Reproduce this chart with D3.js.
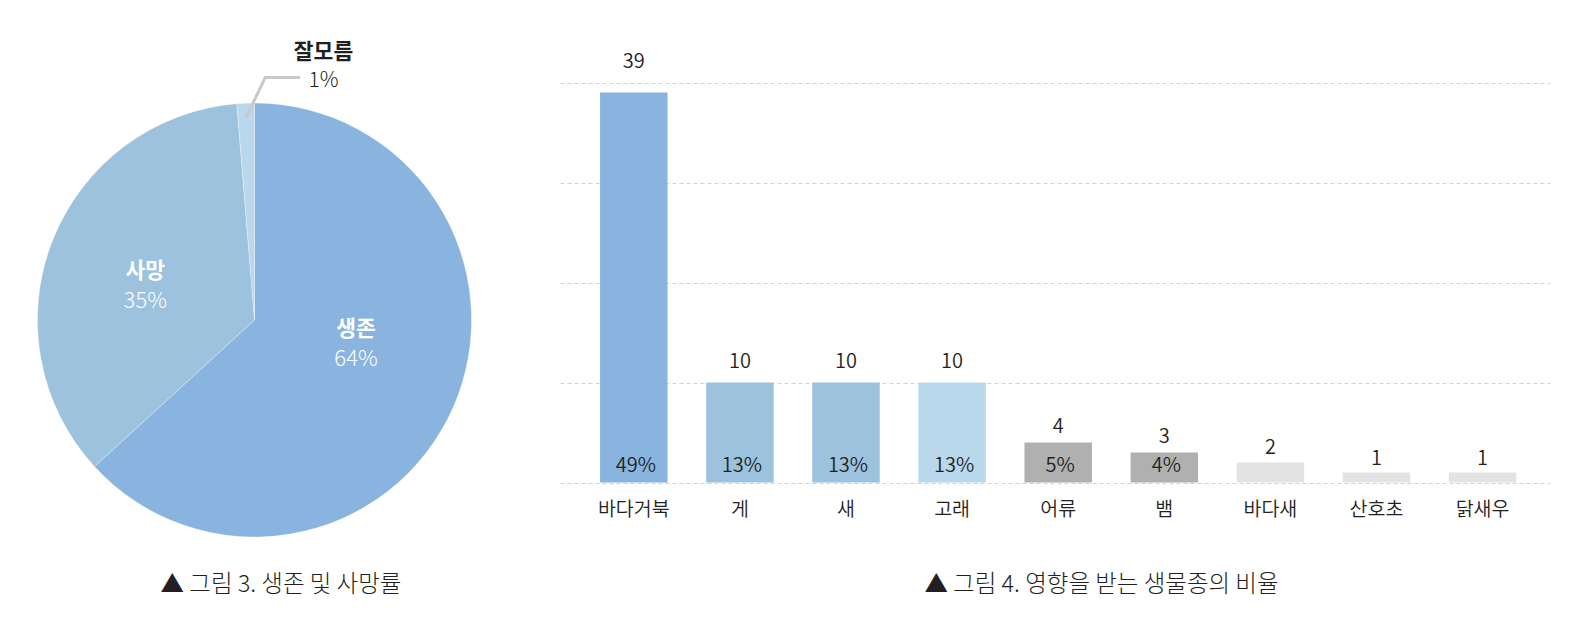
<!DOCTYPE html>
<html><head><meta charset="utf-8">
<script src="https://cdn.jsdelivr.net/npm/d3@7"></script>
<style>
html,body{margin:0;padding:0;background:#fff;}
svg{display:block;font-family:"Noto Sans CJK KR","Noto Sans",sans-serif;}
</style></head>
<body>
<svg id="c" width="1584" height="631"></svg>
<script>
// ---- Pie data (그림 3) ----
const pieNames = ["생존", "사망", "잘모름"];
const pieValues = [63.2, 35.5, 1.3];
const pieLabels = ["64%", "35%", "1%"];
const pieColors = ["#8ab4e0", "#9cc2dd", "#b9d8ec"];

// ---- Bar data (그림 4) ----
const barCategories = ["바다거북", "게", "새", "고래", "어류", "뱀", "바다새", "산호초", "닭새우"];
const barValues = [39, 10, 10, 10, 4, 3, 2, 1, 1];
const barPercents = ["49%", "13%", "13%", "13%", "5%", "4%", "", "", ""];
const barColors = ["#8ab4e0", "#9cc2dd", "#9cc2dd", "#b9d8ec", "#b0b0b0", "#b0b0b0", "#e3e3e3", "#e3e3e3", "#e3e3e3"];
const yTicks = [0, 10, 20, 30, 40];

const captions = ["▲ 그림 3. 생존 및 사망률", "▲ 그림 4. 영향을 받는 생물종의 비율"];

const svg = d3.select("#c");
const textColor = "#231f20";

// ================= PIE =================
const cx = 254.5, cy = 320, R = 217;
const pie = d3.pie().sort(null).value(d => d)(pieValues);
const arc = d3.arc().innerRadius(0).outerRadius(R);
const gPie = svg.append("g").attr("transform", `translate(${cx},${cy})`);
gPie.selectAll("path").data(pie).join("path")
  .attr("d", arc)
  .attr("fill", (d, i) => pieColors[i])
  .attr("stroke", "#ffffff").attr("stroke-opacity", 0.35).attr("stroke-width", 0.8);

function twoLine(g, x, y, name, pct, color, s1, s2, gap) {
  g.append("text").attr("text-anchor", "middle").attr("fill", color)
    .attr("x", x).attr("y", y - gap / 2).attr("dy", "0.36em")
    .attr("font-size", s1).attr("font-weight", 700).text(name);
  g.append("text").attr("text-anchor", "middle").attr("fill", color)
    .attr("x", x).attr("y", y + gap / 2).attr("dy", "0.36em")
    .attr("font-size", s2).attr("font-weight", 300).text(pct);
}

const labelArc = d3.arc().innerRadius(112).outerRadius(112);
const nudges = [[-1, -22], [-5, 6]];
[0, 1].forEach(i => {
  const c = labelArc.centroid(pie[i]);
  twoLine(gPie, c[0] + nudges[i][0], c[1] + nudges[i][1], pieNames[i], pieLabels[i], "#fff", 21.5, 22, 29);
});

// leader for small slice
{
  const d = pie[2];
  const mid = (d.startAngle + d.endAngle) / 2;
  const p0 = [Math.sin(mid) * (R - 14), -Math.cos(mid) * (R - 14)];
  const p1 = [p0[0] + 19, -242.5];
  const p2 = [p1[0] + 35, -242.5];
  gPie.append("path").attr("d", d3.line()([p0, p1, p2]))
    .attr("fill", "none").attr("stroke", "#c9c9c9").attr("stroke-width", 3);
  twoLine(gPie, 69, -254.5, pieNames[2], pieLabels[2], textColor, 21.5, 21, 28);
}

svg.append("text").attr("x", 281).attr("y", 583.5).attr("dy", "0.36em")
  .attr("text-anchor", "middle").attr("fill", textColor)
  .attr("font-size", 23.5).attr("font-weight", 300).text(captions[0]);

// ================= BARS =================
const x = d3.scaleBand().domain(barCategories).range([580.75, 1535.65])
  .paddingInner(0.364).paddingOuter(0.182);
const y = d3.scaleLinear().domain([0, 40]).range([482.5, 82.5]);
const gBar = svg.append("g");

gBar.selectAll("line.grid").data(yTicks).join("line")
  .attr("class", "grid")
  .attr("x1", 560.5).attr("x2", 1550.5)
  .attr("y1", d => Math.round(y(d)) + 0.5).attr("y2", d => Math.round(y(d)) + 0.5)
  .attr("stroke", "#d2d2d2").attr("stroke-width", 1).attr("stroke-dasharray", "4,3");

gBar.selectAll("rect").data(barValues).join("rect")
  .attr("x", (d, i) => x(barCategories[i]))
  .attr("width", x.bandwidth())
  .attr("y", d => y(d))
  .attr("height", d => y(0) - y(d))
  .attr("fill", (d, i) => barColors[i]);

// value labels above bars
gBar.selectAll("text.val").data(barValues).join("text")
  .attr("class", "val")
  .attr("x", (d, i) => x(barCategories[i]) + x.bandwidth() / 2)
  .attr("y", d => y(d) - (14 + 0.8 * Math.min(d, 10) + 0.35 * Math.max(d - 10, 0)))
  .attr("dy", "0.36em").attr("text-anchor", "middle")
  .attr("fill", textColor).attr("font-size", 20).attr("font-weight", 350).text(d => d);

// percent labels inside bars
gBar.selectAll("text.pct").data(barPercents).join("text")
  .attr("class", "pct")
  .attr("x", (d, i) => x(barCategories[i]) + x.bandwidth() / 2 + 2)
  .attr("y", y(0) - 17.5)
  .attr("dy", "0.36em").attr("text-anchor", "middle")
  .attr("fill", textColor).attr("font-size", 20).attr("font-weight", 350).text(d => d);

// category labels
gBar.selectAll("text.cat").data(barCategories).join("text")
  .attr("class", "cat")
  .attr("x", d => x(d) + x.bandwidth() / 2)
  .attr("y", 508.5)
  .attr("dy", "0.36em").attr("text-anchor", "middle")
  .attr("fill", textColor).attr("font-size", 19.5).attr("font-weight", 350).text(d => d);

svg.append("text").attr("x", 1101.5).attr("y", 584).attr("dy", "0.36em")
  .attr("text-anchor", "middle").attr("fill", textColor)
  .attr("font-size", 23.5).attr("font-weight", 300).text(captions[1]);
</script>
</body></html>
